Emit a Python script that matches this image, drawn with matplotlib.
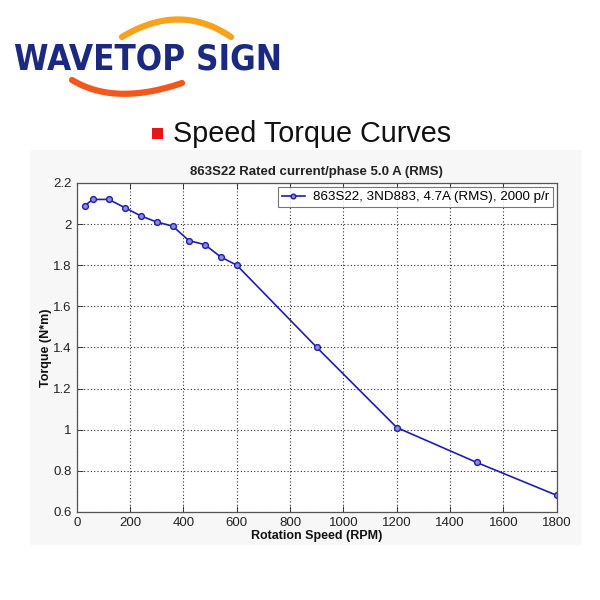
import matplotlib
matplotlib.use("Agg")
import matplotlib.pyplot as plt
import numpy as np
from matplotlib.patches import Rectangle

speed = [30, 60, 120, 180, 240, 300, 360, 420, 480, 540, 600, 900, 1200, 1500, 1800]
torque = [2.09, 2.12, 2.12, 2.08, 2.04, 2.01, 1.99, 1.92, 1.90, 1.84, 1.80, 1.40, 1.01, 0.84, 0.68]
xticks = [0, 200, 400, 600, 800, 1000, 1200, 1400, 1600, 1800]
yticks = [0.6, 0.8, 1.0, 1.2, 1.4, 1.6, 1.8, 2.0, 2.2]
ytick_labels = ["0.6", "0.8", "1", "1.2", "1.4", "1.6", "1.8", "2", "2.2"]
series_label = "863S22, 3ND883, 4.7A (RMS), 2000 p/r"
chart_title = "863S22 Rated current/phase 5.0 A (RMS)"
heading = "Speed Torque Curves"
brand = "WAVETOP SIGN"

plt.rcParams['font.family'] = ['Liberation Sans', 'DejaVu Sans']
fig = plt.figure(figsize=(6, 6), dpi=100)
fig.patch.set_facecolor("white")

# overlay axes in pixel coordinates for decorations
deco = fig.add_axes([0, 0, 1, 1], zorder=0)
deco.set_xlim(0, 600)
deco.set_ylim(600, 0)
deco.axis("off")
deco.add_patch(Rectangle((30, 150), 552, 395, facecolor="#f7f7f7", edgecolor="none"))

# logo arcs
t = np.linspace(0, 1, 60)
def quad(p0, p1, p2):
    x = (1 - t) ** 2 * p0[0] + 2 * (1 - t) * t * p1[0] + t ** 2 * p2[0]
    y = (1 - t) ** 2 * p0[1] + 2 * (1 - t) * t * p1[1] + t ** 2 * p2[1]
    return x, y
ux, uy = quad((122, 37), (180, 2), (231, 37))
deco.plot(ux, uy, color="#f7a21b", lw=4.5, solid_capstyle="round")
lx, ly = quad((72, 80), (115, 106), (182, 83))
deco.plot(lx, ly, color="#f2571c", lw=4.5, solid_capstyle="round")
deco.text(148, 60, brand, fontsize=25, fontweight="bold", color="#1b2a80",
          ha="center", va="center", family=['DejaVu Sans'],
          fontstretch="condensed")

# heading
deco.add_patch(Rectangle((152, 128), 11, 11, facecolor="#e8141b", edgecolor="none"))
deco.text(173, 134, heading, fontsize=20.7, color="#111111", ha="left", va="center")

ax = fig.add_axes([0.128, 0.147, 0.8, 0.548], zorder=1)
ax.set_facecolor("white")
ax.plot(speed, torque, color="#1e1eb0", lw=1.2, marker="o", ms=4.2,
        mfc="#8a8ae0", mec="#1e1eb0", mew=1.0, label=series_label)
ax.set_xlim(0, 1800)
ax.set_ylim(0.6, 2.2)
ax.set_xticks(xticks)
ax.set_yticks(yticks)
ax.set_yticklabels(ytick_labels)
ax.grid(True, color="#333333", linestyle=(0, (1, 2)), lw=0.8)
ax.tick_params(direction="in", top=True, right=True, labelsize=9.5, colors="#222222",
               length=4, width=0.6)
for s in ax.spines.values():
    s.set_color("#555555")
    s.set_linewidth(0.9)
ax.set_xlabel("Rotation Speed (RPM)", fontsize=9, fontweight="bold", color="#111111", labelpad=1)
ax.set_ylabel("Torque (N*m)", fontsize=9, fontweight="bold", color="#111111", labelpad=1)
ax.set_title(chart_title, fontsize=9.5, fontweight="bold", color="#222222", pad=6)
leg = ax.legend(loc="upper right", fontsize=9.6, frameon=True, fancybox=False,
                borderaxespad=0.3, handlelength=1.7, handletextpad=0.6, borderpad=0.3,
                markerscale=0.8)
leg.get_frame().set_edgecolor("#555555")
leg.get_frame().set_linewidth(0.8)

fig.savefig("out.png", dpi=100, facecolor="white")
